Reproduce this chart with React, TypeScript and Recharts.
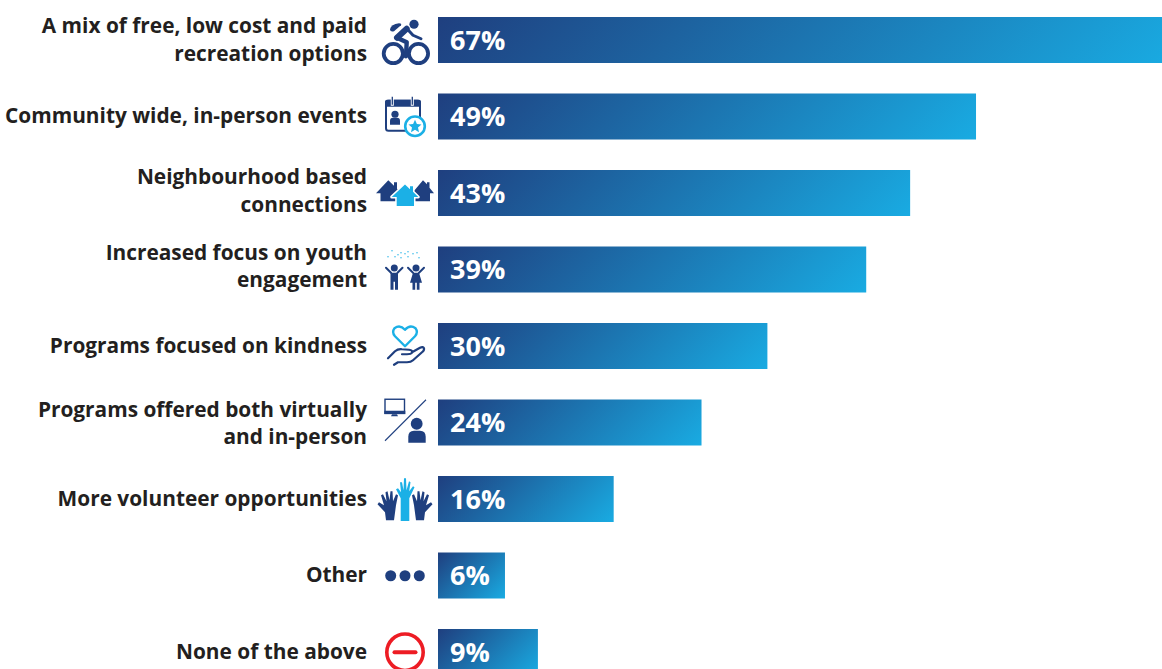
import React from 'react';
import { BarChart, Bar, Cell, XAxis, YAxis, LabelList } from 'recharts';

const categories = [
  'A mix of free, low cost and paid\nrecreation options',
  'Community wide, in-person events',
  'Neighbourhood based\nconnections',
  'Increased focus on youth\nengagement',
  'Programs focused on kindness',
  'Programs offered both virtually\nand in-person',
  'More volunteer opportunities',
  'Other',
  'None of the above',
];
// 6% and 9% bars read slightly long in the picture, labels are rounded
const values = [67, 49, 43, 39, 30, 24, 16, 6.1, 9.1];
const iconNames = ['bike', 'calendar', 'houses', 'kids', 'heart', 'virtual', 'hands', 'dots', 'none'];

const data = categories.map((category, i) => ({ category, value: values[i], icon: iconNames[i] }));

const NAVY = '#1f3f7f';
const CYAN = '#1bb0e6';
const TEXT = '#231f20';
const FONT = '"Open Sans", sans-serif';
const PX_PER_UNIT = 10.98;
const BAR_HEIGHT = 46;

// small vertical corrections of the left labels, by row
const labelShift: Record<string, number> = { bike: -0.5, calendar: -0.5, houses: -2.5, kids: -3.5, virtual: 0.5, hands: -0.5, dots: -0.5, heart: -0.5, none: -0.5 };

// gradient runs at 45 degrees on screen from the top left to the bottom right corner
const gradientEnd = (value: number) => {
  const a = BAR_HEIGHT / (value * PX_PER_UNIT);
  const k = (1 + a) / (1 + a * a);
  return { x2: k, y2: k * a };
};

const Hand = ({ flip = 1 }: { flip?: number }) => (
  <path
    transform={`scale(${flip},1)`}
    fill={NAVY}
    d="M11 21 L9 6 L7 -4 L9 -5 L12 2 L12.5 -8 L14.5 -8 L15.5 1 L17.5 -8 L19.5 -7 L18.5 2 L22 -5 L24 -4 L21 6 L26 3 L27.5 5 L20 13 L19 21 Z"
  />
);

// icons are drawn around (0,0), which sits at the middle of the row
const icons: Record<string, React.ReactNode> = {
  bike: (
    <g>
      <circle cx={-11.7} cy={13.3} r={9.6} fill="none" stroke={NAVY} strokeWidth={3.8} />
      <circle cx={13.5} cy={13.3} r={9.6} fill="none" stroke={NAVY} strokeWidth={3.8} />
      <circle cx={9} cy={-16} r={4.6} fill={NAVY} />
      <path d="M-15 -11 Q-14 -16 -6 -17 Q-3 -17 -4 -15 L-11 -9 Q-15 -8 -15 -11 Z" fill={NAVY} />
      <path d="M1.7 -11.5 L-8 -2.5" fill="none" stroke={NAVY} strokeWidth={6} strokeLinecap="round" />
      <path d="M2 -11.5 L8 -5 L16 -1.5" fill="none" stroke={NAVY} strokeWidth={3} strokeLinecap="round" strokeLinejoin="round" />
      <path d="M-8 -2.5 L1.7 2 L1 16" fill="none" stroke={NAVY} strokeWidth={4.4} strokeLinecap="round" strokeLinejoin="round" />
    </g>
  ),
  calendar: (
    <g>
      <rect x={-19} y={-16} width={34} height={30} rx={2.5} fill="#fff" stroke={NAVY} strokeWidth={2} />
      <path d="M-20 -10 V-15 Q-20 -17 -18 -17 H14 Q16 -17 16 -15 V-10 Z" fill={NAVY} />
      <path d="M-12.7 -20 V-11 M7.3 -20 V-11" stroke="#fff" strokeWidth={3} />
      <path d="M-12.7 -20 V-12 M7.3 -20 V-12" stroke={NAVY} strokeWidth={1.3} />
      <circle cx={-10} cy={-2.5} r={3.6} fill={NAVY} />
      <path d="M-15 8 V4 Q-15 1 -12 1 H-8 Q-5 1 -5 4 V8 Z" fill={NAVY} />
      <circle cx={10} cy={9.5} r={9.8} fill="#fff" stroke={CYAN} strokeWidth={2.6} />
      <path d="M10 3 L11.9 7.3 L16.5 7.7 L13 10.8 L14 15.4 L10 13 L6 15.4 L7 10.8 L3.5 7.7 L8.1 7.3 Z" fill={CYAN} />
    </g>
  ),
  houses: (
    <g>
      <path d="M-29 0 L-16.7 -13 L-11 -7.5 V-11 H-8 V-4.5 L-4 0 H-8 V8 H-24.5 V0 Z" fill={NAVY} />
      <path d="M7 0 L18 -13 L22 -9 V-11 H24.5 V-5.5 L29 0 H25 V8 H10 V0 Z" fill={NAVY} />
      <path
        d="M-13.3 3.7 L0 -8.7 L5 -4 V-7 H8 V-1.5 L13.3 3.7 H9 V12.7 H-8.3 V3.7 Z"
        fill={CYAN}
        stroke="#fff"
        strokeWidth={3}
        strokeLinejoin="round"
        paintOrder="stroke"
      />
    </g>
  ),
  kids: (
    <g>
      {[[-17, -13], [-13, -19], [-7, -15], [-4, -17], [-10, -13], [0, -16], [3, -18], [8, -16], [12, -17], [14, -12], [-4, -12], [3, -13]].map(([x, y], i) => (
        <circle key={i} cx={x} cy={y} r={0.7} fill={CYAN} />
      ))}
      <circle cx={-10.7} cy={-1.8} r={3.5} fill={NAVY} />
      <path d="M-19 -2 L-14 3 M-2.5 -2 L-7.5 3" fill="none" stroke={NAVY} strokeWidth={2} strokeLinecap="round" />
      <path d="M-14.5 3 H-7 V12 H-14.5 Z M-14.5 12 H-11.5 V20 H-14.5 Z M-10 12 H-7 V20 H-10 Z" fill={NAVY} />
      <circle cx={11} cy={-1.8} r={3.5} fill={NAVY} />
      <path d="M3 -2 L8 3 M19 -2 L14 3" fill="none" stroke={NAVY} strokeWidth={2} strokeLinecap="round" />
      <path d="M8 3 H14 L17 13 H5 Z M7.5 13 H10.2 V20 H7.5 Z M11.8 13 H14.5 V20 H11.8 Z" fill={NAVY} />
    </g>
  ),
  heart: (
    <g>
      <path d="M0 0 L-10 -10 Q-13.5 -14 -10.5 -18 Q-5 -22 0 -16.5 Q5 -22 10.5 -18 Q13.5 -14 10 -10 Z" fill="none" stroke={CYAN} strokeWidth={2.4} strokeLinejoin="round" />
      <path d="M-17 12 L-10 5 Q-7 2.5 -3 3 L4 3.5 Q8 4 7 6.5 Q6 8 2 8 L-3 8 M7 6 L15 1.5 Q18 0 19 2 Q19.5 4 17 6 L8 14 Q6 16 2 16 L-7 16 L-11 18.5" fill="none" stroke={NAVY} strokeWidth={2.2} strokeLinecap="round" strokeLinejoin="round" />
    </g>
  ),
  virtual: (
    <g>
      <rect x={-20} y={-23.5} width={19.5} height={14} fill="#fff" stroke={NAVY} strokeWidth={1.4} />
      <rect x={-20.7} y={-12} width={21} height={3.4} fill={NAVY} />
      <path d="M-13 -8.6 H-8 L-7 -6.5 H-14 Z" fill={NAVY} />
      <path d="M-20 18 L21 -23" stroke={NAVY} strokeWidth={1.1} />
      <circle cx={11.7} cy={1} r={5.9} fill={NAVY} />
      <path d="M3.3 20 V14 Q3.3 8 9 8 H15 Q20.7 8 20.7 14 V20 Z" fill={NAVY} />
    </g>
  ),
  hands: (
    <g>
      <path d="M-4.3 21.7 V-1 L-9 -10 L-7 -11 L-4 -7 L-5 -17 L-3 -17 L-1.5 -9 L-1 -21 L1 -21 L1.5 -9 L4 -18 L5.5 -17 L4.2 -8 L8 -13 L9.5 -12 L4.3 -1 V21.7 Z" fill={CYAN} />
      <Hand flip={-1} />
      <Hand flip={1} />
    </g>
  ),
  dots: (
    <g fill={NAVY}>
      <circle cx={-14.3} cy={0} r={5.5} />
      <circle cx={0} cy={0} r={5.5} />
      <circle cx={14.3} cy={0} r={5.5} />
    </g>
  ),
  none: (
    <g>
      <circle cx={0} cy={0} r={18.2} fill="none" stroke="#ed1c24" strokeWidth={3.6} />
      <rect x={-12.5} y={-2} width={25} height={4} rx={2} fill="#ed1c24" />
    </g>
  ),
};

const CategoryTick = (props: any) => {
  const { y, payload } = props;
  const lines: string[] = payload.value.split('\n');
  const row = data.find((d) => d.category === payload.value);
  const shift = row ? labelShift[row.icon] ?? 0 : 0;
  return (
    <g>
      <text x={367} y={y} textAnchor="end" fontFamily={FONT} fontWeight={700} fontSize={20.85} fill={TEXT}>
        {lines.map((line, i) => (
          <tspan key={i} x={367} y={y + 7 + shift + (i - (lines.length - 1) / 2) * 27.5}>
            {line}
          </tspan>
        ))}
      </text>
      <g transform={`translate(405,${y})`}>{row ? icons[row.icon] : null}</g>
    </g>
  );
};

export default function App() {
  return (
    <div style={{ position: 'absolute', left: 0, top: 0, width: 1162, height: 669, overflow: 'hidden', background: '#fff' }}>
      <BarChart
        width={1200}
        height={690.5}
        data={data}
        layout="vertical"
        barCategoryGap={0}
        margin={{ top: 2, right: 0, bottom: 0, left: 0 }}
      >
        <defs>
          {values.map((v, i) => (
            <linearGradient key={i} id={`barFill${i}`} x1="0" y1="0" {...gradientEnd(v)}>
              <stop offset="0" stopColor="#1f3f7f" />
              <stop offset="1" stopColor="#19abe2" />
            </linearGradient>
          ))}
        </defs>
        <XAxis type="number" domain={[0, 762 / PX_PER_UNIT]} hide />
        <YAxis
          type="category"
          dataKey="category"
          width={438}
          axisLine={false}
          tickLine={false}
          interval={0}
          tick={<CategoryTick />}
        />
        <Bar dataKey="value" barSize={BAR_HEIGHT} isAnimationActive={false}>
          {values.map((_, i) => (
            <Cell key={i} fill={`url(#barFill${i})`} />
          ))}
          <LabelList
            dataKey="value"
            position="insideLeft"
            offset={12}
            formatter={(v: number) => `${Math.round(v)}%`}
            fill="#fff"
            fontFamily={FONT}
            fontWeight={700}
            fontSize={27}
          />
        </Bar>
      </BarChart>
    </div>
  );
}
